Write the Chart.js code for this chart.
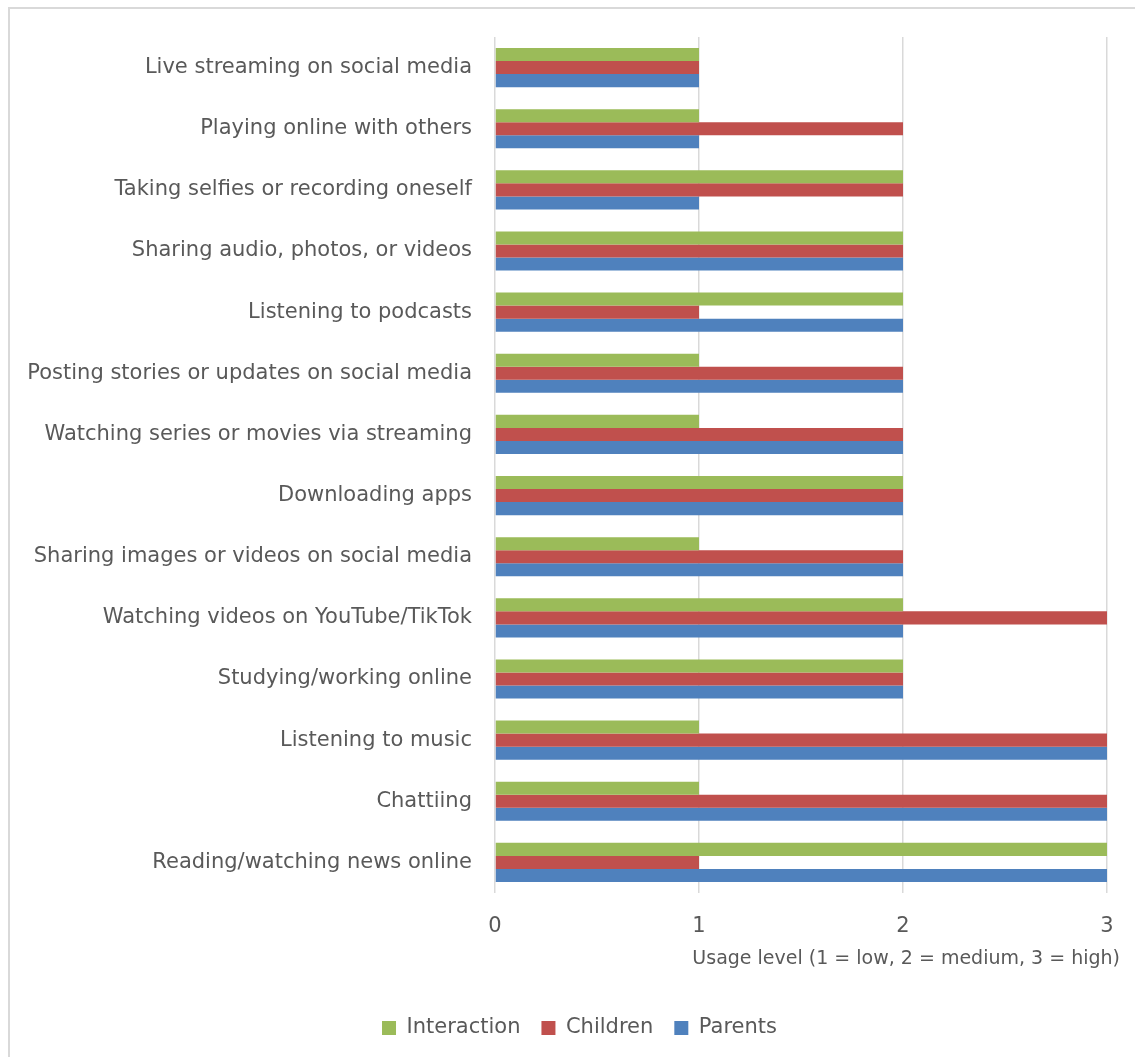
<!DOCTYPE html>
<html>
<head>
<meta charset="utf-8">
<script src="https://cdn.jsdelivr.net/npm/chart.js@4.4.1/dist/chart.umd.min.js"></script>
<style>
  html, body { margin: 0; padding: 0; background: #fff; }
  body { width: 1135px; height: 1057px; position: relative; overflow: hidden; }
  #frame { position: absolute; left: 8px; top: 7px; width: 1300px; height: 1300px; border: 2px solid #d9d9d9; }
  #wrap { position: absolute; left: 0; top: 0; width: 1135px; height: 1057px; }
</style>
</head>
<body>
<div id="frame"></div>
<div id="wrap"><canvas id="chart"></canvas></div>
<script>
/* categories, top to bottom */
const activities = [
  "Live streaming on social media",
  "Playing online with others",
  "Taking selfies or recording oneself",
  "Sharing audio, photos, or videos",
  "Listening to podcasts",
  "Posting stories or updates on social media",
  "Watching series or movies via streaming",
  "Downloading apps",
  "Sharing images or videos on social media",
  "Watching videos on YouTube/TikTok",
  "Studying/working online",
  "Listening to music",
  "Chattiing",
  "Reading/watching news online"
];
/* usage levels (1 = low, 2 = medium, 3 = high) */
const interaction = [1, 1, 2, 2, 2, 1, 1, 2, 1, 2, 2, 1, 1, 3];
const children    = [1, 2, 2, 2, 1, 2, 2, 2, 2, 3, 2, 3, 3, 1];
const parents     = [1, 1, 1, 2, 2, 2, 2, 2, 2, 2, 2, 3, 3, 3];
const xTicks = [0, 1, 2, 3];

const textColor = "#595959";
const fontFam = "'DejaVu Sans', Verdana, sans-serif";

// nudge legend and axis title a bit to the right, like the original
const nudge = {
  id: "nudge",
  afterLayout(chart) {
    chart.legend.left += 26;
    chart.legend.right += 26;
    const sx = chart.scales.x;
    if (!sx._nudged) {
      const orig = sx.drawTitle;
      sx.drawTitle = function () {
        this.right += 13;
        orig.call(this);
        this.right -= 13;
      };
      sx._nudged = true;
    }
  }
};

const ctx = document.getElementById("chart");
const chart = new Chart(ctx, {
  type: "bar",
  data: {
    labels: activities,
    datasets: [
      { label: "Interaction", data: interaction, backgroundColor: "#9BBB59" },
      { label: "Children", data: children, backgroundColor: "#C0504D" },
      { label: "Parents", data: parents, backgroundColor: "#4F81BD" }
    ]
  },
  options: {
    indexAxis: "y",
    responsive: true,
    maintainAspectRatio: false,
    animation: false,
    categoryPercentage: 0.64,
    barPercentage: 1.0,
    layout: { padding: { top: 37, right: 28, bottom: 8.5, left: 0 } },
    scales: {
      x: {
        min: 0,
        max: 3,
        afterBuildTicks: function (scale) {
          scale.ticks = xTicks.map(function (v) { return { value: v }; });
        },
        afterFit: function (scale) { scale.height = 103.5; },
        grid: { color: "#d9d9d9", lineWidth: 1.5, drawTicks: false },
        border: { display: false },
        ticks: { color: textColor, font: { family: fontFam, size: 21 }, padding: 21 },
        title: {
          display: true,
          text: "Usage level (1 = low, 2 = medium, 3 = high)",
          align: "end",
          color: textColor,
          font: { family: fontFam, size: 19 },
          padding: { top: 0, bottom: 26 }
        }
      },
      y: {
        afterFit: function (scale) { scale.width = 495; },
        grid: { display: false, drawTicks: false },
        border: { display: false },
        ticks: { color: textColor, font: { family: fontFam, size: 21 }, padding: 23, autoSkip: false }
      }
    },
    plugins: {
      legend: {
        position: "bottom",
        labels: {
          color: textColor,
          font: { family: fontFam, size: 21 },
          boxWidth: 14,
          boxHeight: 14,
          padding: 21
        }
      },
      tooltip: { enabled: false }
    }
  },
  plugins: [nudge]
});
</script>
</body>
</html>
